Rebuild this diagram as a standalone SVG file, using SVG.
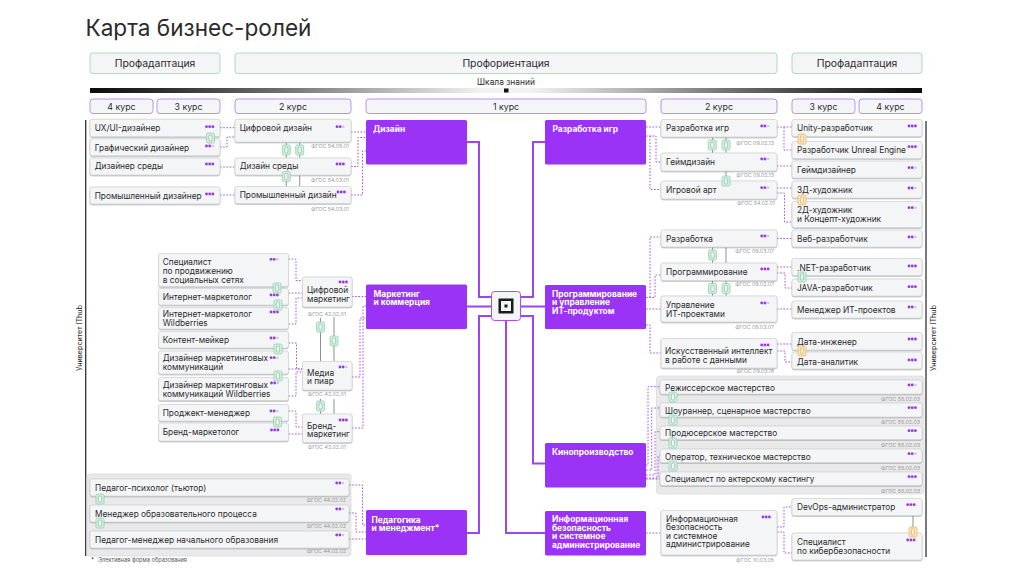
<svg xmlns="http://www.w3.org/2000/svg" width="1024" height="578" viewBox="0 0 1024 578">
<style>
text{font-family:"Inter","Liberation Sans",sans-serif;fill:#2b2b2b}
.t{font-size:8.3px}
.f{font-size:5.3px;fill:#9a9a9a;text-anchor:end}
.b{font-size:8.4px;font-weight:700;fill:#fff}
.c{fill:#f4f5f7;stroke:#d3d5d8;stroke-width:.8;filter:url(#sh)}
.hd{fill:#f4f5f7;stroke:#a9dcc0;stroke-width:1}
.cr{fill:#f4f5f7;stroke:#bb90f2;stroke-width:1}
.p{fill:#9b33f7}
.ct{fill:#e9e9ea;stroke:#dcdcdc;stroke-width:.8}
.tr{fill:none;stroke:#9b45f5;stroke-width:2}
.d{fill:none;stroke:#a650f5;stroke-width:1;stroke-dasharray:1.6 1.6}
.g{fill:none;stroke:#8d9190;stroke-width:1}
.m{text-anchor:middle}
</style>
<defs>
<filter id="sh" x="-5%" y="-20%" width="110%" height="150%"><feDropShadow dx="0" dy=".7" stdDeviation=".3" flood-color="#8a8a8a" flood-opacity=".7"/></filter>
<linearGradient id="scale" x1="0" x2="1" y1="0" y2="0">
<stop offset="0" stop-color="#0c0c0c"/><stop offset=".1" stop-color="#333"/><stop offset=".22" stop-color="#6b6b6b"/><stop offset=".35" stop-color="#b4b4b4"/><stop offset=".47" stop-color="#f2f2f2"/><stop offset=".53" stop-color="#f2f2f2"/><stop offset=".65" stop-color="#b4b4b4"/><stop offset=".78" stop-color="#6b6b6b"/><stop offset=".9" stop-color="#333"/><stop offset="1" stop-color="#0c0c0c"/>
</linearGradient>
<g id="d3"><circle cx="0" cy="0" r="1.4" fill="#9b33f7"/><circle cx="3.2" cy="0" r="1.4" fill="#9b33f7"/><circle cx="6.4" cy="0" r="1.4" fill="#9b33f7"/></g>
<g id="d2"><circle cx="0" cy="0" r="1.4" fill="#9b33f7"/><circle cx="3.2" cy="0" r="1.4" fill="#9b33f7"/><circle cx="6.4" cy="0" r="1.2" fill="#c9c9cc"/></g>
<g id="cg"><rect x="-4" y="-5" width="8" height="10" rx="1.5" fill="#d6efe2" stroke="#8fd0ab" stroke-width=".8"/><rect x="-1.6" y="-3" width="3.2" height="6" rx="1" fill="#f4f5f7" stroke="#6fb98f" stroke-width=".6"/></g>
<g id="co"><rect x="-4" y="-5" width="8" height="10" rx="1.5" fill="#fbe6c2" stroke="#eeb564" stroke-width=".8"/><rect x="-1.6" y="-3" width="3.2" height="6" rx="1" fill="#f8f1e0" stroke="#e0a040" stroke-width=".6"/></g>
</defs>
<rect width="1024" height="578" fill="#fff"/>

<g id="header">
<text x="85.5" y="36" style="font-size:22.6px">Карта бизнес-ролей</text>
<rect class="hd" x="90" y="53" width="130" height="20.5" rx="3"/><text class="m" x="155" y="66.5" style="font-size:10.4px">Профадаптация</text>
<rect class="hd" x="235" y="53" width="542" height="20.5" rx="3"/><text class="m" x="506" y="66.5" style="font-size:10.4px">Профориентация</text>
<rect class="hd" x="792" y="53" width="130" height="20.5" rx="3"/><text class="m" x="857" y="66.5" style="font-size:10.4px">Профадаптация</text>
<text class="m" x="506" y="85" style="font-size:8.4px">Шкала знаний</text>
<rect x="90" y="88" width="832" height="5" fill="url(#scale)"/>
<rect x="504" y="88.5" width="4.5" height="4" fill="#111"/>
<rect class="cr" x="90" y="99" width="63" height="14.5" rx="3"/><text class="m" x="121.5" y="109.5" style="font-size:8.8px">4 курс</text>
<rect class="cr" x="157" y="99" width="63" height="14.5" rx="3"/><text class="m" x="188.5" y="109.5" style="font-size:8.8px">3 курс</text>
<rect class="cr" x="235" y="99" width="116" height="14.5" rx="3"/><text class="m" x="293" y="109.5" style="font-size:8.8px">2 курс</text>
<rect class="cr" x="366" y="99" width="280" height="14.5" rx="3"/><text class="m" x="506" y="109.5" style="font-size:8.8px">1 курс</text>
<rect class="cr" x="661" y="99" width="116" height="14.5" rx="3"/><text class="m" x="719" y="109.5" style="font-size:8.8px">2 курс</text>
<rect class="cr" x="792" y="99" width="63" height="14.5" rx="3"/><text class="m" x="823.5" y="109.5" style="font-size:8.8px">3 курс</text>
<rect class="cr" x="859" y="99" width="63" height="14.5" rx="3"/><text class="m" x="890.5" y="109.5" style="font-size:8.8px">4 курс</text>
<path d="M85.7 120V556M926 121V557" fill="none" stroke="#333" stroke-width="1.3"/>
<text class="m" transform="translate(81.5,338) rotate(-90)" style="font-size:7.2px">Университет IThub</text>
<text class="m" transform="translate(936,338) rotate(-90)" style="font-size:7.2px">Университет IThub</text>
<text x="91" y="561.5" style="font-size:6px">*</text><text x="98" y="561.5" style="font-size:5.6px;fill:#555">Элективная форма образования</text>
</g>

<g id="containers">
<rect class="ct" x="87" y="474" width="264" height="82" rx="3"/>
<rect class="ct" x="656.5" y="376" width="267.5" height="118" rx="3"/>
</g>

<g id="connectors">
<path class="tr" d="M467 142H479V297H491M467 306.5H491M467 533H479V316H491M545 142H533V297H520M545 306.5H520M545 463.5H533V316H520M506 320V533H545"/>
<g>
<path class="d" d="M220 127.7H235M220 147H227V137H235M220 167H235M220 195H235M351 132H366M351 166.5H358V137.5H366M351 195H362.5V151H366"/>
<path class="d" d="M288.5 259H296V280.5H302.5M288.5 293H302.5M288.5 324H296V298H302.5M288.5 343H296.5V369H302.5M288.5 369H302.5M288.5 396H296V372H302.5M288.5 411H296V427H302.5M288.5 434H302.5M352 296.5H366M352 377H360V318H366M352 428H363V306H366"/>
<path class="d" d="M349 485H362.5V525H366M349 513H356V532H366M349 539H366"/>
<path class="d" d="M646 127H661M646 136H656V162H661M650 136V189.5H661M777 127H792M784 127V150H792M777 166H792M777 188H792M777 193H784.5V222H792"/>
<path class="d" d="M646 297.5H655V275H661M650 297.5V237H661M646 309H661M646 325H650V353H661M777 238.5H792M777 267H792M777 273H785V288H792M777 309H792M777 344H792M777 351H785V362H792"/>
<path class="d" d="M646 465H648V386.7H660M646 470H651.7V408H660M646 475H655V431.7H660M646 478H658V456H660M646 479H660"/>
<path class="d" d="M646 533H661M777 527H784V507H792M777 532H784V553H792"/>
</g>
<path class="g" d="M286.3 142V158M299.7 142V158M286.3 175V186.5M299.7 175V186.5M320.5 318V361.5M334 317V361.5M320.5 399V414M334 399V414M712.5 137V153M726 137V153M726 171V181M712.5 247V263M726 247V263M712.5 280.5V296M726 280.5V296M913 515.5V533"/>
</g>

<g id="n-ux"><rect class="c" x="90" y="119.3" width="130" height="17.4" rx="2"/><text class="t" x="94.7" y="131.3">UX/UI-дизайнер</text><use href="#d3" x="206.5" y="126.7"/></g>
<g id="n-graph"><rect class="c" x="90" y="138.7" width="130" height="17" rx="2"/><text class="t" x="94.7" y="150.5">Графический дизайнер</text><use href="#d2" x="206.5" y="146"/></g>
<g id="n-env"><rect class="c" x="90" y="158" width="130" height="17" rx="2"/><text class="t" x="94.7" y="169.3">Дизайнер среды</text><use href="#d3" x="206.5" y="164"/></g>
<g id="n-ind"><rect class="c" x="90" y="187" width="130" height="17" rx="2"/><text class="t" x="94.7" y="198.5">Промышленный дизайнер</text><use href="#d3" x="206.5" y="194"/></g>
<g id="n-cd"><rect class="c" x="235" y="119.3" width="116" height="22.7" rx="2"/><text class="t" x="239.7" y="131">Цифровой дизайн</text><use href="#d2" x="337" y="126.7"/><text class="f" x="349" y="147.5">ФГОС 54.05.01</text></g>
<g id="n-ed"><rect class="c" x="235" y="158" width="116" height="17" rx="2"/><text class="t" x="239.7" y="169">Дизайн среды</text><use href="#d3" x="337" y="164"/><text class="f" x="349" y="181.5">ФГОС 54.03.01</text></g>
<g id="n-id"><rect class="c" x="235" y="186.5" width="116" height="17" rx="2"/><text class="t" x="239.7" y="198">Промышленный дизайн</text><use href="#d3" x="338" y="192"/><text class="f" x="349" y="210.5">ФГОС 54.03.01</text></g>

<g id="n-smm"><rect class="c" x="158.5" y="253.5" width="130" height="33" rx="2"/><text class="t" x="162.7" y="264.5">Специалист</text><text class="t" x="162.7" y="273.5">по продвижению</text><text class="t" x="162.7" y="282.5">в социальных сетях</text><use href="#d2" x="271" y="259.3"/></g>
<g id="n-im"><rect class="c" x="158.5" y="288.5" width="130" height="16.5" rx="2"/><text class="t" x="162.7" y="300">Интернет-маркетолог</text><use href="#d3" x="271" y="295"/></g>
<g id="n-imw"><rect class="c" x="158.5" y="307.5" width="130" height="21.5" rx="2"/><text class="t" x="162.7" y="317">Интернет-маркетолог</text><text class="t" x="162.7" y="326">Wildberries</text><use href="#d3" x="271" y="312"/></g>
<g id="n-cm"><rect class="c" x="158.5" y="331.5" width="130" height="16.5" rx="2"/><text class="t" x="162.7" y="343">Контент-мейкер</text><use href="#d2" x="271" y="338"/></g>
<g id="n-dm"><rect class="c" x="158.5" y="351" width="130" height="23" rx="2"/><text class="t" x="162.7" y="361">Дизайнер маркетинговых</text><text class="t" x="162.7" y="369.5">коммуникаций</text><use href="#d2" x="271" y="357.7"/></g>
<g id="n-dmw"><rect class="c" x="158.5" y="377.5" width="130" height="23" rx="2"/><text class="t" x="162.7" y="388">Дизайнер маркетинговых</text><text class="t" x="162.7" y="396.5">коммуникаций Wildberries</text><use href="#d2" x="271.5" y="383"/></g>
<g id="n-pm"><rect class="c" x="158.5" y="404.5" width="130" height="16.5" rx="2"/><text class="t" x="162.7" y="416">Проджект-менеджер</text><use href="#d2" x="271" y="411"/></g>
<g id="n-bm"><rect class="c" x="158.5" y="423" width="130" height="18" rx="2"/><text class="t" x="162.7" y="435">Бренд-маркетолог</text><use href="#d3" x="271.5" y="430"/></g>
<g id="n-dgm"><rect class="c" x="302.5" y="277" width="49.5" height="30" rx="2"/><text class="t" x="307" y="293">Цифровой</text><text class="t" x="307" y="301.5">маркетинг</text><use href="#d3" x="340" y="282"/><text class="f" x="346" y="315.5">ФГОС 42.02.01</text></g>
<g id="n-med"><rect class="c" x="302.5" y="361.5" width="49.5" height="28.5" rx="2"/><text class="t" x="307" y="375.5">Медиа</text><text class="t" x="307" y="384">и пиар</text><use href="#d2" x="340" y="367"/><text class="f" x="346" y="395.5">ФГОС 42.02.01</text></g>
<g id="n-brd"><rect class="c" x="302.5" y="414" width="49.5" height="28.5" rx="2"/><text class="t" x="307" y="428.5">Бренд-</text><text class="t" x="307" y="437">маркетинг</text><use href="#d3" x="340" y="420"/><text class="f" x="346" y="448.5">ФГОС 42.02.01</text></g>

<g id="n-pp"><rect class="c" x="90" y="479" width="259" height="17" rx="2"/><text class="t" x="95" y="491">Педагог-психолог (тьютор)</text><use href="#d2" x="336.7" y="483"/><text class="f" x="346" y="501.5">ФГОС 44.02.02</text></g>
<g id="n-pe"><rect class="c" x="90" y="505" width="259" height="17" rx="2"/><text class="t" x="95" y="517">Менеджер образовательного процесса</text><use href="#d2" x="336.7" y="509"/><text class="f" x="346" y="527.5">ФГОС 44.02.02</text></g>
<g id="n-pn"><rect class="c" x="90" y="531" width="259" height="17" rx="2"/><text class="t" x="95" y="542.5">Педагог-менеджер начального образования</text><use href="#d2" x="336.7" y="535"/><text class="f" x="346" y="553">ФГОС 44.02.02</text></g>

<g id="n-design"><rect class="p" x="366" y="120" width="101" height="44.5" rx="1.5"/><text class="b" x="373" y="131.5">Дизайн</text></g>
<g id="n-marketing"><rect class="p" x="366" y="284.5" width="101" height="44.5" rx="1.5"/><text class="b" x="373.5" y="296.5">Маркетинг</text><text class="b" x="373.5" y="305">и коммерция</text></g>
<g id="n-ped"><rect class="p" x="366" y="510" width="101" height="45" rx="1.5"/><text class="b" x="371.5" y="522.5">Педагогика</text><text class="b" x="371.5" y="531">и менеджмент*</text></g>
<g id="n-games"><rect class="p" x="545" y="120" width="101" height="44.5" rx="1.5"/><text class="b" x="552.5" y="131.5">Разработка игр</text></g>
<g id="n-prog"><rect class="p" x="545" y="285" width="101" height="44" rx="1.5"/><text class="b" x="552" y="296.5">Программирование</text><text class="b" x="552" y="305">и управление</text><text class="b" x="552" y="313.5">ИТ-продуктом</text></g>
<g id="n-kino"><rect class="p" x="545" y="443" width="101" height="44.5" rx="1.5"/><text class="b" x="552" y="454.5">Кинопроизводство</text></g>
<g id="n-sec"><rect class="p" x="545" y="511" width="101" height="44.5" rx="1.5"/><text class="b" x="552" y="522">Информационная</text><text class="b" x="552" y="530.5">безопасность</text><text class="b" x="552" y="539">и системное</text><text class="b" x="552" y="547.5">администрирование</text></g>

<g id="n-center"><rect x="491.5" y="291.5" width="29" height="29" rx="3" fill="#f4f5f7" stroke="#a650f5" stroke-width="1"/><rect x="498.5" y="298.5" width="15" height="15" fill="#1c1c1c"/><rect x="501" y="301" width="10" height="10" fill="#f4f5f7"/><rect x="504.5" y="304.5" width="3" height="3" fill="#1c1c1c"/></g>

<g id="n-rg"><rect class="c" x="661" y="119.5" width="116" height="17.5" rx="2"/><text class="t" x="666" y="131">Разработка игр</text><use href="#d2" x="761.7" y="126"/><text class="f" x="774" y="145">ФГОС 09.02.13</text></g>
<g id="n-gd"><rect class="c" x="661" y="153" width="116" height="18" rx="2"/><text class="t" x="666" y="164.5">Геймдизайн</text><use href="#d2" x="761.7" y="159"/><text class="f" x="774" y="177">ФГОС 09.02.13</text></g>
<g id="n-ga"><rect class="c" x="661" y="181" width="116" height="18" rx="2"/><text class="t" x="666" y="193">Игровой арт</text><use href="#d2" x="761.7" y="187.7"/><text class="f" x="775" y="204.5">ФГОС 54.02.01</text></g>
<g id="n-dev"><rect class="c" x="661" y="230" width="116" height="17" rx="2"/><text class="t" x="666" y="241.5">Разработка</text><use href="#d2" x="761.7" y="236"/><text class="f" x="774" y="253">ФГОС 09.03.07</text></g>
<g id="n-pr"><rect class="c" x="661" y="263" width="116" height="17.5" rx="2"/><text class="t" x="666" y="274.5">Программирование</text><use href="#d3" x="761.7" y="269"/><text class="f" x="774" y="286">ФГОС 09.02.07</text></g>
<g id="n-mgmt"><rect class="c" x="661" y="296" width="116" height="26" rx="2"/><text class="t" x="666" y="308">Управление</text><text class="t" x="666" y="316.5">ИТ-проектами</text><use href="#d2" x="761.7" y="303"/><text class="f" x="774" y="328.5">ФГОС 09.03.07</text></g>
<g id="n-ai"><rect class="c" x="661" y="338.5" width="116" height="29.5" rx="2"/><text class="t" x="665" y="354">Искусственный интеллект</text><text class="t" x="665" y="362.5">в работе с данными</text><use href="#d3" x="761.7" y="345"/><text class="f" x="774" y="373">ФГОС 09.03.18</text></g>

<g id="n-un"><rect class="c" x="792" y="119.5" width="130" height="17" rx="2"/><text class="t" x="797" y="131">Unity-разработчик</text><use href="#d3" x="909" y="126"/></g>
<g id="n-ue"><rect class="c" x="792" y="141.5" width="130" height="17" rx="2"/><text class="t" x="797" y="153">Разработчик Unreal Engine</text><use href="#d3" x="909" y="146.7"/></g>
<g id="n-gdr"><rect class="c" x="792" y="161" width="130" height="17" rx="2"/><text class="t" x="797" y="172.5">Геймдизайнер</text><use href="#d2" x="909" y="167.7"/></g>
<g id="n-3d"><rect class="c" x="792" y="181" width="130" height="17" rx="2"/><text class="t" x="797" y="193">3Д-художник</text><use href="#d2" x="909" y="188"/></g>
<g id="n-2d"><rect class="c" x="792" y="201.5" width="130" height="26" rx="2"/><text class="t" x="797" y="213">2Д-художник</text><text class="t" x="797" y="221.5">и Концепт-художник</text><use href="#d2" x="909" y="207.7"/></g>
<g id="n-web"><rect class="c" x="792" y="230" width="130" height="17" rx="2"/><text class="t" x="797" y="241.5">Веб-разработчик</text><use href="#d2" x="909" y="237"/></g>
<g id="n-net"><rect class="c" x="792" y="258.5" width="130" height="17" rx="2"/><text class="t" x="797" y="270.5">.NET-разработчик</text><use href="#d3" x="909" y="266"/></g>
<g id="n-java"><rect class="c" x="792" y="279" width="130" height="17" rx="2"/><text class="t" x="797" y="291">JAVA-разработчик</text><use href="#d3" x="909" y="286.7"/></g>
<g id="n-mit"><rect class="c" x="792" y="301" width="130" height="17" rx="2"/><text class="t" x="797" y="312.5">Менеджер ИТ-проектов</text><use href="#d2" x="909" y="307"/></g>
<g id="n-de"><rect class="c" x="792" y="332.5" width="130" height="17.5" rx="2"/><text class="t" x="797" y="344.5">Дата-инженер</text><use href="#d3" x="909" y="339"/></g>
<g id="n-da"><rect class="c" x="792" y="352" width="130" height="17" rx="2"/><text class="t" x="797" y="365">Дата-аналитик</text><use href="#d3" x="909" y="360"/></g>

<g id="n-k1"><rect class="c" x="660" y="380" width="262" height="14" rx="2"/><text class="t" x="665" y="390.5">Режиссерское мастерство</text><use href="#d2" x="909" y="385"/><text class="f" x="920" y="400.5">ФГОС 55.02.03</text></g>
<g id="n-k2"><rect class="c" x="660" y="403" width="262" height="14" rx="2"/><text class="t" x="665" y="413.5">Шоураннер, сценарное мастерство</text><use href="#d3" x="909" y="407.7"/><text class="f" x="920" y="423.5">ФГОС 55.02.03</text></g>
<g id="n-k3"><rect class="c" x="660" y="426" width="262" height="13.5" rx="2"/><text class="t" x="665" y="436">Продюсерское мастерство</text><use href="#d3" x="909" y="430.7"/><text class="f" x="920" y="446.5">ФГОС 55.02.03</text></g>
<g id="n-k4"><rect class="c" x="660" y="449" width="262" height="13.5" rx="2"/><text class="t" x="665" y="459.5">Оператор, техническое мастерство</text><use href="#d2" x="909" y="453.7"/><text class="f" x="920" y="469.5">ФГОС 55.02.03</text></g>
<g id="n-k5"><rect class="c" x="660" y="472" width="262" height="13.5" rx="2"/><text class="t" x="665" y="482">Специалист по актерскому кастингу</text><use href="#d3" x="909" y="476.7"/><text class="f" x="920" y="492.5">ФГОС 55.02.03</text></g>

<g id="n-is"><rect class="c" x="661" y="510.5" width="116" height="44.5" rx="2"/><text class="t" x="666" y="521.5">Информационная</text><text class="t" x="666" y="530">безопасность</text><text class="t" x="666" y="538.5">и системное</text><text class="t" x="666" y="547">администрирование</text><use href="#d3" x="763" y="517"/><text class="f" x="774" y="561.5">ФГОС 10.03.05</text></g>
<g id="n-dvo"><rect class="c" x="792" y="498.5" width="130" height="17" rx="2"/><text class="t" x="797" y="510">DevOps-администратор</text><use href="#d3" x="907.7" y="504.7"/></g>
<g id="n-cs"><rect class="c" x="792" y="533" width="130" height="27" rx="2"/><text class="t" x="797" y="545">Специалист</text><text class="t" x="797" y="553.5">по кибербезопасности</text><use href="#d3" x="907.7" y="540"/></g>

<g id="chips">
<use href="#cg" x="210.5" y="138"/><use href="#cg" x="286.3" y="150"/><use href="#cg" x="299.7" y="150"/><use href="#cg" x="286.3" y="176.5"/>
<use href="#cg" x="277" y="288"/><use href="#cg" x="278" y="305"/><use href="#cg" x="278" y="349"/><use href="#cg" x="278" y="376"/><use href="#cg" x="277.5" y="422"/>
<use href="#cg" x="320.5" y="327"/><use href="#cg" x="334" y="341"/><use href="#cg" x="320.5" y="406"/>
<use href="#cg" x="100" y="499"/><use href="#cg" x="100" y="523"/>
<use href="#cg" x="712.3" y="145"/><use href="#cg" x="726" y="145"/><use href="#cg" x="726" y="181"/>
<use href="#co" x="802" y="139"/><use href="#co" x="802" y="200"/>
<use href="#cg" x="712.5" y="255"/><use href="#cg" x="712.5" y="288.5"/><use href="#cg" x="726" y="288.5"/><use href="#cg" x="802" y="277"/><use href="#co" x="802" y="351"/>
<use href="#cg" x="673" y="397"/><use href="#cg" x="673" y="420"/><use href="#cg" x="673" y="443"/><use href="#cg" x="673" y="466"/>
<use href="#co" x="913" y="532"/>
</g>
</svg>
